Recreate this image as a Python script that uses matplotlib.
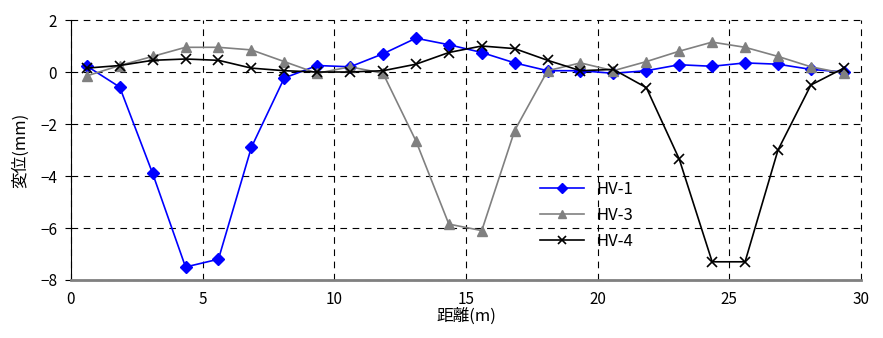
import matplotlib
matplotlib.use('Agg')
import matplotlib.pyplot as plt

plt.rcParams['font.family'] = ['Noto Sans CJK JP', 'DejaVu Sans']

distance = [0.6, 1.85, 3.1, 4.35, 5.6, 6.85, 8.1, 9.35, 10.6, 11.85, 13.1, 14.35,
            15.6, 16.85, 18.1, 19.35, 20.6, 21.85, 23.1, 24.35, 25.6, 26.85, 28.1, 29.35]
hv1 = [0.23, -0.58, -3.9, -7.5, -7.2, -2.9, -0.23, 0.25, 0.2, 0.7, 1.3, 1.05,
       0.75, 0.35, 0.05, 0.05, -0.05, 0.05, 0.28, 0.22, 0.35, 0.3, 0.1, 0.0]
hv3 = [-0.15, 0.25, 0.6, 0.95, 0.95, 0.85, 0.4, -0.05, 0.2, -0.05, -2.65, -5.85,
       -6.1, -2.25, 0.05, 0.35, 0.05, 0.4, 0.8, 1.15, 0.95, 0.6, 0.2, -0.05]
hv4 = [0.15, 0.25, 0.45, 0.5, 0.45, 0.15, 0.05, 0.0, 0.0, 0.05, 0.3, 0.75,
       1.0, 0.9, 0.45, 0.05, 0.1, -0.6, -3.35, -7.3, -7.3, -3.0, -0.5, 0.15]

fig = plt.figure(figsize=(8.83, 3.38), dpi=100)
ax = fig.add_axes([0.0804, 0.1716, 0.8946, 0.7692])

ax.plot(distance, hv1, color='#0000ff', marker='D', markersize=6, linewidth=1.2, label='HV-1')
ax.plot(distance, hv3, color='#808080', marker='^', markersize=7, linewidth=1.2, label='HV-3')
ax.plot(distance, hv4, color='black', marker='x', markersize=7, markeredgewidth=1.2,
        linewidth=1.2, label='HV-4')

ax.set_xlim(0, 30)
ax.set_ylim(-8, 2)
ax.set_xticks([0, 5, 10, 15, 20, 25, 30])
ax.set_yticks([-8, -6, -4, -2, 0, 2])
ax.set_yticklabels(['\u22128', '\u22126', '\u22124', '\u22122', '0', '2'])
ax.grid(True, color='black', linestyle=(0, (6, 5)), linewidth=0.8)
ax.set_axisbelow(True)
for gl in ax.get_xgridlines() + ax.get_ygridlines():
    gl.set_clip_on(False)

for s in ['top', 'right']:
    ax.spines[s].set_visible(False)
ax.spines['left'].set_color('black')
ax.spines['bottom'].set_color('#808080')
ax.spines['bottom'].set_linewidth(2)
ax.tick_params(axis='y', labelsize=11, length=4, direction='out', pad=6)
ax.tick_params(axis='x', labelsize=11, length=0, pad=8)

ax.set_xlabel('距離(m)', fontsize=12, labelpad=0)
ax.set_ylabel('変位(mm)', fontsize=12, labelpad=8)

leg = ax.legend(loc='upper left', bbox_to_anchor=(0.575, 0.44), frameon=False,
                fontsize=12, handlelength=2.6, labelspacing=0.55, markerscale=0.8)

fig.savefig('out.png', dpi=100)
